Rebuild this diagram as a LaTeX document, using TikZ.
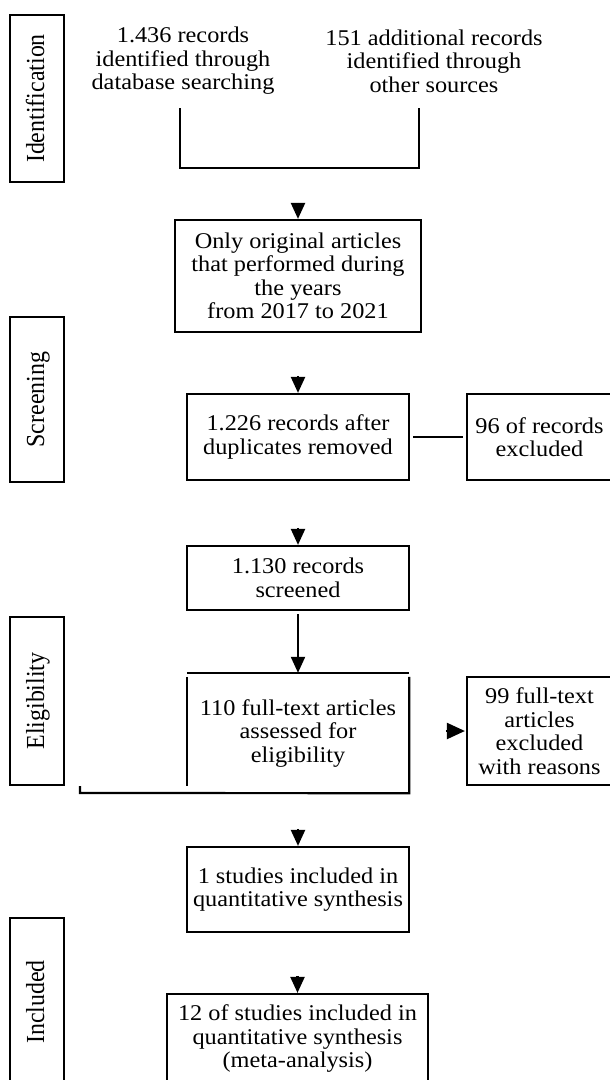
\documentclass[tikz,border=0pt]{standalone}
\usepackage{fontspec}
\setmainfont{Liberation Serif}[FakeStretch=1.08]
\newfontfamily\sidefont{Liberation Serif}[FakeStretch=0.92]
\usetikzlibrary{arrows.meta}

\newcommand\flowtextfont{\fontsize{22.5}{23.5}\selectfont}
\newcommand\phasetextfont{\sidefont\fontsize{26}{26}\selectfont}

\tikzset{
  every node/.style={font=\flowtextfont, inner sep=0pt, align=center},
  box/.style={draw, line width=2.2pt},
  phase/.style={draw, line width=2.2pt, rotate=90, minimum height=54pt,
                font=\phasetextfont, text height=18pt, text depth=4pt},
  link/.style={line width=2.2pt},
  tip/.style={line width=2.2pt, -{Triangle[length=16pt,width=14pt]}},
  sidetip/.style={line width=2.2pt, -{Triangle[length=18pt,width=16pt]}},
}

\begin{document}
\begin{tikzpicture}[x=1pt,y=-1pt]
\useasboundingbox (0,0) rectangle (610,1080);
\fill[white] (0,0) rectangle (610,1080);
\clip (0,0) rectangle (610,1080);

% phase labels on the left
\node[phase, minimum width=167pt] (pid)  at (37,98.5)  {Identification};
\node[phase, minimum width=165pt] (pscr) at (37,399.5) {Screening};
\node[phase, minimum width=168pt] (pel)  at (37,701)   {Eligibility};
\node[phase, minimum width=168pt] (pinc) at (37,1002)  {Included};

% identification sources
\node (src1) at (183,61) {1.436 records\\identified through\\database searching};
\node (src2) at (434,61) {151 additional records\\identified through\\other sources};

% bracket joining the two sources
\coordinate (jl)  at (180,108);
\coordinate (jlb) at (180,168);
\coordinate (jrb) at (419,168);
\coordinate (jr)  at (419,108);
\draw[link] (jl) -- (jlb) -- (jrb) -- (jr);

% filter by years
\node[box, minimum width=246pt, minimum height=112pt] (filt) at (298,276)
  {Only original articles\\that performed during\\the years\\from 2017 to 2021};
\draw[tip] ([yshift=16pt]filt.north) -- (filt.north);

% duplicates removed
\node[box, minimum width=222pt, minimum height=86pt] (dup) at (298,437)
  {1.226 records after\\duplicates removed};
\node[box, minimum width=145pt, minimum height=86pt] (excl1) at (539.5,437)
  {96 of records\\excluded};
\draw[tip] ([yshift=17pt]dup.north) -- (dup.north);
\draw[link, shorten <=3pt, shorten >=3pt] (dup.east) -- (excl1.west);

% screened
\node[box, minimum width=222pt, minimum height=64pt] (scr) at (298,578)
  {1.130 records\\screened};
\draw[tip] ([yshift=17pt]scr.north) -- (scr.north);

% full-text assessment with open frame
\node[minimum width=222pt, minimum height=120pt] (full) at (298,733)
  {110 full-text articles\\assessed for\\eligibility};
\coordinate (ft) at (80,786);
\coordinate (fb) at (80,793);
\draw[link] (full.north west) -- (full.north east);
\draw[link] ([yshift=-4pt]full.north west) -- ([yshift=7pt]full.south west);
\draw[link] (ft) -- (fb) -- (full.south east) -- ([yshift=-4pt]full.north east);
\draw[tip, shorten <=3pt] (scr.south) -- (full.north);

\node[box, minimum width=145pt, minimum height=108pt] (excl2) at (539.5,731)
  {99 full-text\\articles\\excluded\\with reasons};
\draw[sidetip] ([xshift=-20pt]excl2.west) -- ([xshift=-1pt]excl2.west);

% included
\node[box, minimum width=222pt, minimum height=85pt] (inc1) at (298,889.5)
  {1 studies included in\\quantitative synthesis};
\draw[tip] ([yshift=17pt]inc1.north) -- (inc1.north);

\node[box, minimum width=261pt, minimum height=89pt] (inc2) at (297.5,1038.5)
  {12 of studies included in\\quantitative synthesis\\(meta-analysis)};
\draw[tip] ([yshift=17pt]inc2.north) -- (inc2.north);
\end{tikzpicture}
\end{document}
